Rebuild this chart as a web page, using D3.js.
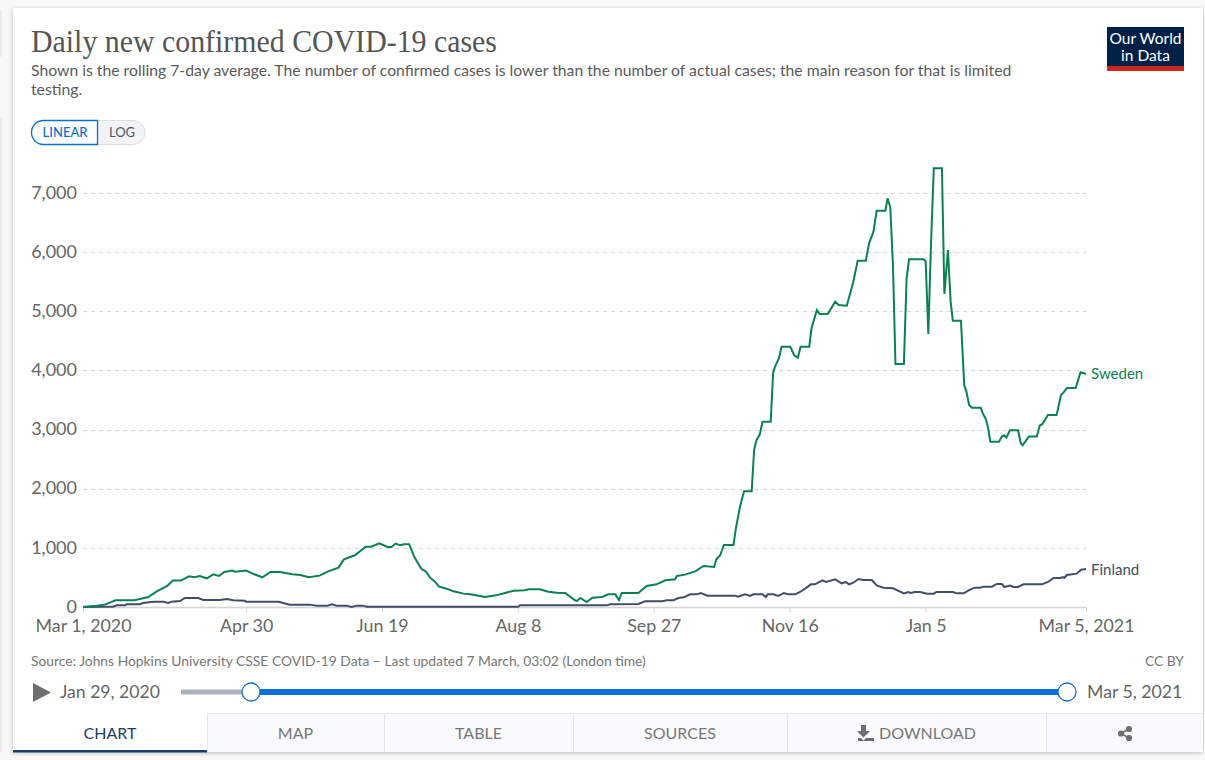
<!DOCTYPE html>
<html>
<head>
<meta charset="utf-8">
<title>Daily new confirmed COVID-19 cases</title>
<script src="https://d3js.org/d3.v7.min.js"></script>
<style>
	html, body { margin: 0; padding: 0; background: #f8f8f8; }
	svg { display: block; }
	text { font-family: Lato, sans-serif; }
</style>
</head>
<body>
<svg id="chart" width="1205" height="760"></svg>
<script>
// x values are days since Mar 1, 2020
var swedenDays = [0,5,8,12,19,24,27,31,33,36,39,41,43,45.5,48,50,52,55,56,60,63,66,69,72.5,77,80,83,87,90,94,96,100,104,106,109,112,113.5,115,116.7,118,120,122,124.6,126,127.7,129.5,131,133.8,136.3,140,142.4,146,148,152,155.3,158.4,162.6,163.9,168,171.2,174.3,177.4,181,181.7,183,185.3,187.4,190.9,193.3,195.8,197.2,198.2,204.3,207.4,211,214.2,217.8,218.5,221.5,225.2,228.3,232.2,233,234.4,235.8,239.3,240.2,241.7,243.2,246,246.9,247.8,249,250,253,253.9,254.6,256,257,260.2,261.6,263,264,267.2,268,270,271,274,276.7,278,281,283.4,285,288,289.2,290.8,292,295.2,296,297,298,298.9,302,303,303.9,309.2,310,311,311.9,313,316,316.9,318.2,319.2,320,323,324.2,325,326,327,330.3,331,332.2,333,333.8,337,338,338.8,339.7,341,344,345,345.7,348,350.9,352,353,355,358.2,359.8,360.7,362,365.2,367,369];
var swedenValues = [0,23,40,113,113,169,259,355,446,446,519,502,524,485,552,524,592,615,598,615,553,502,592,592,553,541,502,530,598,665,806,874,1020,1020,1077,1015,1015,1072,1043,1060,1060,835,637,609,496,429,344,310,265,226,214,186,169,197,237,276,282,299,299,259,242,237,113,102,152,85,158,169,214,214,118,237,237,355,384,451,468,525,547,603,694,677,806,874,1048,1048,1330,1696,1956,1956,2655,2824,2920,3134,3134,3962,4064,4204,4402,4402,4261,4216,4402,4402,4712,5022,4954,4954,5163,5106,5095,5500,5856,5856,6149,6346,6701,6701,6910,6758,5754,4109,4109,5557,5878,5878,5850,4616,6036,7417,7417,5292,6036,5163,4841,4841,3754,3642,3416,3371,3371,3275,3174,3022,2796,2796,2881,2903,2864,2988,2988,2768,2734,2881,2881,3067,3095,3247,3247,3585,3625,3704,3704,3968,3940];
var finlandDays = [0,7.5,11,12.4,15.5,16,21,22,26,29.6,31.4,32.6,35.7,37.5,42.4,44.3,50.4,52.9,55.3,59.6,60,72,76,83.5,86,90,91.5,93.3,97,98.8,100.7,103,104.4,117,160,160.8,192.7,194,204.3,206.8,213,214.8,217.2,219,221,223.4,225.8,227.3,229.7,239.9,240.9,243.6,245.4,246.6,250,251.2,252,254,255.8,257.9,259.5,262,263.8,266.2,267.8,269.3,272,273.4,276.7,279.1,280.6,281.8,283.4,285.3,287,290.2,292,294.5,298,302,303.6,304.5,306,308,310.5,313,314,320,321.5,324,326,328,330,331.3,334.4,336.2,338,339,341,342.3,344,346,352.8,355.2,357,359.5,360.5,361,362,365.6,367.2,369];
var finlandValues = [0,6,6,28,28,45,45,68,90,90,68,90,100,152,152,118,118,135,113,107,90,90,40,40,23,23,45,23,23,0,23,23,6,3,3,28,28,45,51,96,96,113,113,152,163,214,214,237,192,192,175,214,186,214,214,169,214,214,186,237,214,214,254,327,383,383,451,423,468,400,423,383,411,473,456,456,366,327,316,231,254,237,254,254,225,225,254,254,231,231,287,327,327,344,344,389,389,338,361,338,338,383,383,428,490,490,507,490,541,564,631,642];

var yTicks = [0,1000,2000,3000,4000,5000,6000,7000];
var xTickDays = [0,60,110,160,210,260,310,369];
var xTickLabels = ["Mar 1, 2020","Apr 30","Jun 19","Aug 8","Sep 27","Nov 16","Jan 5","Mar 5, 2021"];
var tabNames = ["CHART","MAP","TABLE","SOURCES","DOWNLOAD",""];
var tabEdges = [13,207,384,573,787,1046,1203];

var swedenColor = "#0b8050";
var finlandColor = "#3f4e69";

var svg = d3.select("svg#chart");

var defs = svg.append("defs");
var shadow = defs.append("filter").attr("id","cardshadow").attr("x","-2%").attr("y","-2%").attr("width","104%").attr("height","104%");
shadow.append("feDropShadow").attr("dx",0).attr("dy",1).attr("stdDeviation",2).attr("flood-color","#000").attr("flood-opacity",0.25);

// edge of the neighbouring cards
svg.append("rect").attr("x",0).attr("y",10).attr("width",1.5).attr("height",47).style("fill","#e9e9e9");
svg.append("rect").attr("x",0).attr("y",118).attr("width",1.5).attr("height",634).style("fill","#e9e9e9");

// card
svg.append("rect").attr("x",13).attr("y",8).attr("width",1190).attr("height",744).attr("rx",2)
	.style("fill","#fff").style("filter","url(#cardshadow)");

// header
svg.append("text").attr("x",31).attr("y",52).attr("textLength",466).attr("lengthAdjust","spacingAndGlyphs")
	.style("font-family","'Liberation Serif', serif").style("font-size","31px").style("fill","#555")
	.text("Daily new confirmed COVID-19 cases");
svg.append("text").attr("x",31).attr("y",76).style("font-size","15.75px").style("fill","#5b5b5b")
	.text("Shown is the rolling 7-day average. The number of confirmed cases is lower than the number of actual cases; the main reason for that is limited");
svg.append("text").attr("x",31).attr("y",95).style("font-size","15.75px").style("fill","#5b5b5b").text("testing.");

// logo
svg.append("rect").attr("x",1107).attr("y",27).attr("width",77).attr("height",44).style("fill","#002147");
svg.append("rect").attr("x",1107).attr("y",66).attr("width",77).attr("height",5).style("fill","#ce261e");
svg.append("text").attr("x",1145.5).attr("y",44).attr("text-anchor","middle").style("font-size","15.5px").style("fill","#fff").text("Our World");
svg.append("text").attr("x",1145.5).attr("y",61).attr("text-anchor","middle").style("font-size","15.5px").style("fill","#fff").text("in Data");

// linear / log toggle
svg.append("path").attr("d","M98 120.5H133a12 12 0 0 1 0 24H98Z").style("fill","#f2f3f4").style("stroke","#dcdfe2");
svg.append("path").attr("d","M97.5 120.5H43.5a12 12 0 0 0 0 24H97.5Z").style("fill","#fff").style("stroke","#0a6fc9").style("stroke-width",1.3);
svg.append("text").attr("x",65).attr("y",137).attr("text-anchor","middle").style("font-size","13px").style("font-weight",500).style("fill","#0a6fc9").text("LINEAR");
svg.append("text").attr("x",122).attr("y",137).attr("text-anchor","middle").style("font-size","13px").style("fill","#4a5568").text("LOG");

// scales
var x = d3.scaleLinear().domain([0,369]).range([83,1086]);
var y = d3.scaleLinear().domain([0,7000]).range([607,193]);

var yAxis = d3.axisLeft(y).tickValues(yTicks).tickFormat(d3.format(",")).tickSize(0).tickPadding(6);
var gy = svg.append("g").attr("transform","translate(83,-0.5)").call(yAxis);
gy.select(".domain").remove();
gy.selectAll("text").style("font-family","Lato, sans-serif").style("font-size","18px").style("fill","#666");

svg.append("g").attr("transform","translate(0,0.5)").selectAll("line").data(yTicks.slice(1)).enter().append("line")
	.attr("x1",83).attr("x2",1086)
	.attr("y1",function(d){ return Math.round(y(d)); })
	.attr("y2",function(d){ return Math.round(y(d)); })
	.style("stroke","#d6d6d6").style("stroke-dasharray","4,4");

var xAxis = d3.axisBottom(x).tickValues(xTickDays).tickSize(5).tickPadding(7)
	.tickFormat(function(d,i){ return xTickLabels[i]; });
var gx = svg.append("g").attr("transform","translate(0,607.5)").call(xAxis);
gx.select(".domain").attr("d","M83,0H1086").style("stroke","#d4d4d4").style("stroke-width",1.5);
gx.selectAll("line").style("stroke","#d4d4d4");
gx.selectAll("text").style("font-family","Lato, sans-serif").style("font-size","17.8px").style("fill","#666");

// series
var line = d3.line()
	.x(function(d){ return x(d[0]); })
	.y(function(d){ return y(d[1]); });

svg.append("path").datum(d3.zip(finlandDays,finlandValues)).attr("d",line)
	.style("fill","none").style("stroke",finlandColor).style("stroke-width",2);
svg.append("path").datum(d3.zip(swedenDays,swedenValues)).attr("d",line)
	.style("fill","none").style("stroke",swedenColor).style("stroke-width",2);

svg.append("text").attr("x",1091).attr("y",y(swedenValues[swedenValues.length-1])+5)
	.style("font-size","15px").style("fill",swedenColor).text("Sweden");
svg.append("text").attr("x",1091).attr("y",y(finlandValues[finlandValues.length-1])+6)
	.style("font-size","15px").style("fill",finlandColor).text("Finland");

// footer
svg.append("text").attr("x",31).attr("y",666).style("font-size","13.85px").style("fill","#777")
	.text("Source: Johns Hopkins University CSSE COVID-19 Data \u2013 Last updated 7 March, 03:02 (London time)");
svg.append("text").attr("x",1184).attr("y",666).attr("text-anchor","end").style("font-size","13.85px").style("fill","#777").text("CC BY");

// timeline
svg.append("path").attr("d","M33 683L51 692.5L33 702Z").style("fill","#6e6e6e");
svg.append("text").attr("x",60).attr("y",698).style("font-size","17.6px").style("fill","#666").text("Jan 29, 2020");
svg.append("text").attr("x",1087).attr("y",698).style("font-size","17.7px").style("fill","#666").text("Mar 5, 2021");
svg.append("line").attr("x1",181).attr("x2",251).attr("y1",692).attr("y2",692).style("stroke","#a9b1bb").style("stroke-width",5);
svg.append("line").attr("x1",251).attr("x2",1067).attr("y1",692).attr("y2",692).style("stroke","#0a6fdb").style("stroke-width",6);
svg.selectAll("circle.handle").data([251,1067]).enter().append("circle").attr("class","handle")
	.attr("cx",function(d){ return d; }).attr("cy",692).attr("r",9)
	.style("fill","#fff").style("stroke","#1a73c4").style("stroke-width",1.3);

// tabs
var tabs = svg.append("g");
tabNames.forEach(function(name,i){
	var x0 = tabEdges[i], x1 = tabEdges[i+1];
	if(i>0){
		tabs.append("rect").attr("x",x0).attr("y",713).attr("width",x1-x0).attr("height",39)
			.style("fill","#f8fafc");
		tabs.append("path").attr("d","M"+(x0+0.5)+" 752V713.5H"+x1).style("fill","none").style("stroke","#e3e6ea");
	}
	var cx = (x0+x1)/2 + (name=="DOWNLOAD" ? 11 : 0);
	tabs.append("text").attr("x",cx).attr("y",739).attr("text-anchor","middle").style("font-size","16px")
		.style("fill",i==0 ? "#1d3d63" : "#777").text(name);
});
tabs.append("rect").attr("x",13).attr("y",750).attr("width",194).attr("height",2.5).style("fill","#1d3d63");

// download and share icons
svg.append("path").attr("d","M861 725h5v6h4l-6.5 6.5L857 731h4ZM858 738h3l2.5 2.5L866 738h8v3h-16ZM858 738v3Z").style("fill","#6e6e6e");
svg.append("path").attr("d","M1129 729L1121 733.5L1129 738").style("fill","none").style("stroke","#6e6e6e").style("stroke-width",1.6);
svg.selectAll("circle.share").data([[1129,729],[1121,733.5],[1129,738]]).enter().append("circle").attr("class","share")
	.attr("cx",function(d){ return d[0]; }).attr("cy",function(d){ return d[1]; }).attr("r",3.1).style("fill","#6e6e6e");
</script>
</body>
</html>
